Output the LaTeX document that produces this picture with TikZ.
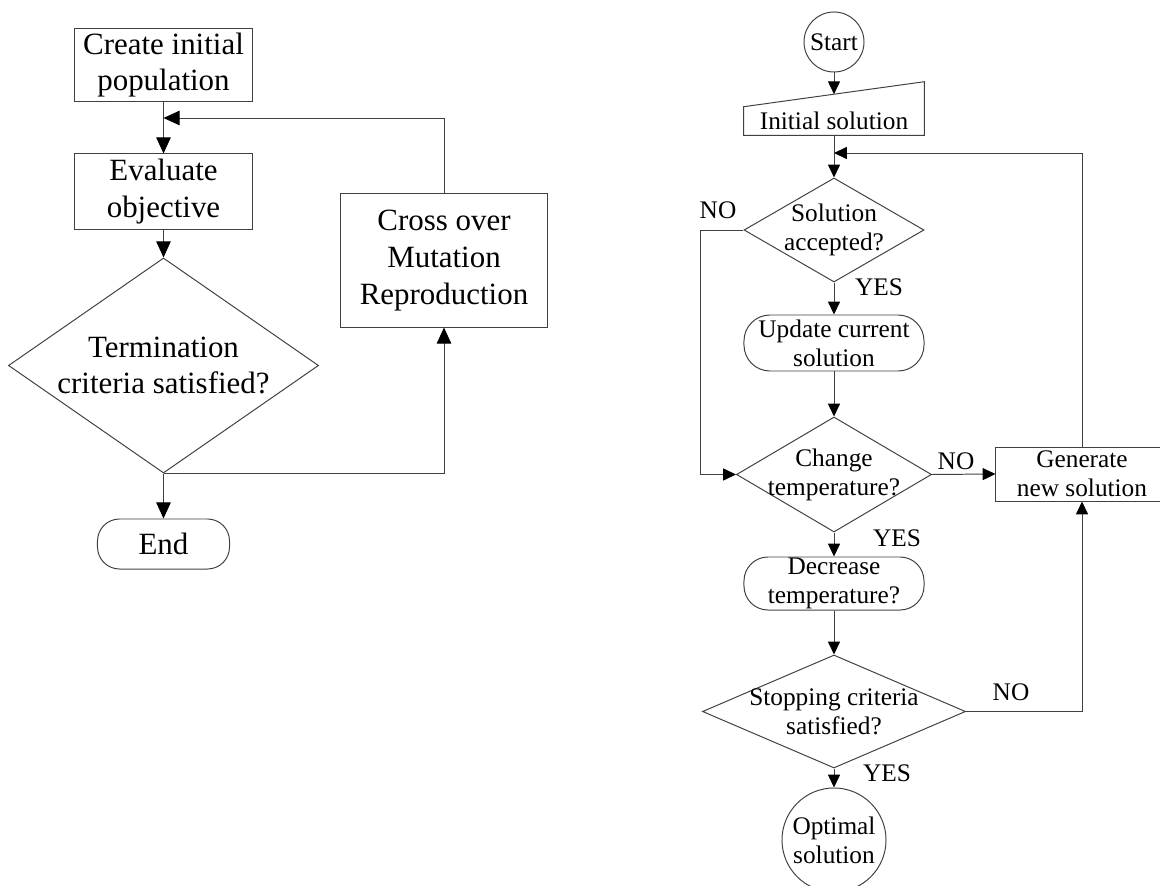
\documentclass[tikz,border=0pt]{standalone}
\usepackage{fontspec}
\setmainfont{Liberation Serif}
\usetikzlibrary{shapes.geometric,arrows.meta}

\begin{document}
\begin{tikzpicture}[x=0.025cm, y=-0.025cm,
    line/.style={draw=black!75, line width=0.7pt},
    arr/.style={line, -{Triangle[length=4mm, width=3.6mm, color=black]}},
    arrs/.style={line, -{Triangle[length=3.2mm, width=3mm, color=black]}},
    big/.style={font=\fontsize{22}{26}\selectfont, align=center},
    small/.style={font=\fontsize{18}{20.5}\selectfont, align=center},
    box/.style={rectangle, line, inner sep=0pt},
    decision/.style={diamond, line, inner sep=-1.5mm},
    stadium/.style={rectangle, line, inner sep=0pt, rounded corners=6mm},
    ring/.style={circle, line, inner sep=0pt}
]
    \useasboundingbox (0,0) rectangle (1160,886);

    \node[box, big, minimum width=44.25mm, minimum height=18mm] (create) at (163.5,65) {Create initial\\population};
    \node[box, big, minimum width=44.25mm, minimum height=18.75mm] (eval) at (163.5,191.5) {Evaluate\\objective};
    \node[decision, big, aspect=1.44, minimum width=77.5mm, minimum height=53.75mm] (term) at (163.5,365.5) {Termination\\criteria satisfied?};
    \node[box, big, minimum width=51.5mm, minimum height=33.25mm] (cross) at (444,260.5) {Cross over\\Mutation\\Reproduction};
    \node[stadium, big, rounded corners=5.5mm, minimum width=33mm, minimum height=12.5mm] (end) at (163.5,544) {End};
    \coordinate (fbl) at (163.5,118);

    \draw[arr] (create) -- (eval);
    \draw[arr] (eval) -- (term);
    \draw[arr] (cross.north) |- (fbl);
    \draw[arr] (term.south) -| (cross.south);
    \draw[arr] (term.south) -- (end.north);

    \node[ring, small, minimum size=15mm] (start) at (834,42) {Start};
    \node[small, minimum width=45mm, minimum height=7mm, inner sep=0pt] (init) at (834,121) {Initial solution};
    \draw[line] (init.south west) -- (init.south east) -- ([yshift=6.25mm]init.north east) -- (init.north west) -- cycle;
    \node[decision, small, aspect=1.73, minimum width=45mm, minimum height=26mm] (acc) at (834,230) {Solution\\accepted?};
    \node[stadium, small, rounded corners=6.5mm, minimum width=45mm, minimum height=14mm] (upd) at (834,343) {Update current\\solution};
    \node[decision, small, aspect=1.7, minimum width=48.75mm, minimum height=28.75mm] (chg) at (834,474.5) {Change\\temperature?};
    \node[box, small, minimum width=43mm, minimum height=13.5mm] (gen) at (1082,474) {Generate\\new solution};
    \node[stadium, small, minimum width=45mm, minimum height=13.25mm] (dec) at (834,583.5) {Decrease\\temperature?};
    \node[decision, small, aspect=2.33, minimum width=65.75mm, minimum height=28.25mm] (stop) at (834,711.5) {Stopping criteria\\satisfied?};
    \node[ring, small, minimum size=26mm] (opt) at (834,840) {Optimal\\solution};
    \coordinate (fbr) at (834,153);

    \node[small] (no1) at (718,210) {NO};
    \node[small] (yes1) at (879,287) {YES};
    \node[small] (no2) at (956,461) {NO};
    \node[small] (yes2) at (897,538) {YES};
    \node[small] (no3) at (1011,692) {NO};
    \node[small] (yes3) at (887,773) {YES};

    \draw[arrs] (start) -- ([yshift=3.125mm]init.north);
    \draw[arrs] (init) -- (acc);
    \draw[arrs] (gen.north) |- (fbr);
    \draw[arrs] (acc.west) -- ++(-43,0) |- (chg.west);
    \draw[arrs] (acc) -- (upd);
    \draw[arrs] (upd) -- (chg);
    \draw[arrs] (chg.east) -- (gen.west);
    \draw[arrs] (chg) -- (dec);
    \draw[arrs] (dec) -- (stop);
    \draw[arrs] (stop.east) -| (gen.south);
    \draw[arrs] (stop) -- (opt);
\end{tikzpicture}
\end{document}
